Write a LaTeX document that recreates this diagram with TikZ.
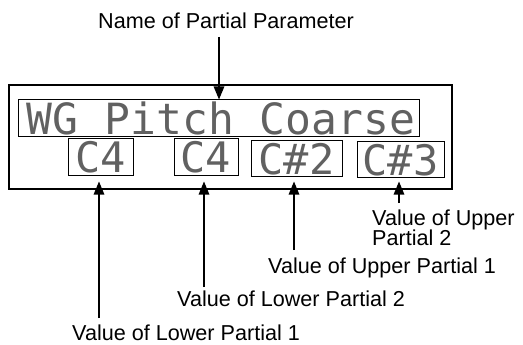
\documentclass[tikz,border=0pt]{standalone}
\usepackage{fontspec}
\setmainfont{Liberation Sans}
\newfontfamily\lcdfont{DejaVu Sans Mono}
\usetikzlibrary{arrows.meta}
\begin{document}
\begin{tikzpicture}[x=1pt,y=-1pt,
  lbl/.style={anchor=base west,inner sep=0pt,font=\fontsize{21.6}{25}\selectfont},
  lcdbox/.style={draw,line width=1pt,inner sep=0pt,font=\lcdfont\fontsize{42}{44}\selectfont,text=black!62},
  arr/.style={line width=1.3pt,-{Triangle[length=13pt,width=10.5pt]}}]
\useasboundingbox (0,0) rectangle (523,345);
% outer display frame
\node[draw,line width=1.3pt,minimum width=443pt,minimum height=104pt,inner sep=0pt] (disp) at (230.5,137) {};
% name field
\node[lcdbox,minimum width=401pt,minimum height=37pt,font=\lcdfont\fontsize{43}{44}\selectfont] (name) at (218.5,118.5) {\hspace{5pt}WG Pitch Coarse};
% value fields
\node[lcdbox,minimum width=65pt,minimum height=37pt] (v1) at (100.5,157.5) {C4};
\node[lcdbox,minimum width=64pt,minimum height=37pt] (v2) at (206,157.5) {C4};
\node[lcdbox,minimum width=91pt,minimum height=36pt] (v3) at (296.5,159) {C\#2};
\node[lcdbox,minimum width=87pt,minimum height=36pt] (v4) at (400.5,160) {C\#3};
% labels
\node[lbl] (lname) at (98,29) {Name of Partial Parameter};
\node[lbl] (l1) at (72,340.5) {Value of Lower Partial 1};
\node[lbl] (l2) at (177,306.5) {Value of Lower Partial 2};
\node[lbl] (l3) at (268,273) {Value of Upper Partial 1};
\node[lbl,align=left] (l4) at (372,245.5) {Value of Upper\\[-4.5pt]Partial 2};
% connector tails
\coordinate (tn) at (219,37);
\coordinate (t1) at (99,318);
\coordinate (t2) at (204,287);
\coordinate (t3) at (294,250);
\coordinate (t4) at (399,203);
% connectors
\draw[arr] (tn) -- (tn |- name.north) ;
\draw[arr,shorten >=5pt] (t1) -- (t1 |- v1.south);
\draw[arr,shorten >=5pt] (t2) -- (t2 |- v2.south);
\draw[arr,shorten >=4pt] (t3) -- (t3 |- v3.south);
\draw[arr,shorten >=3pt] (t4) -- (t4 |- v4.south);
\end{tikzpicture}
\end{document}
